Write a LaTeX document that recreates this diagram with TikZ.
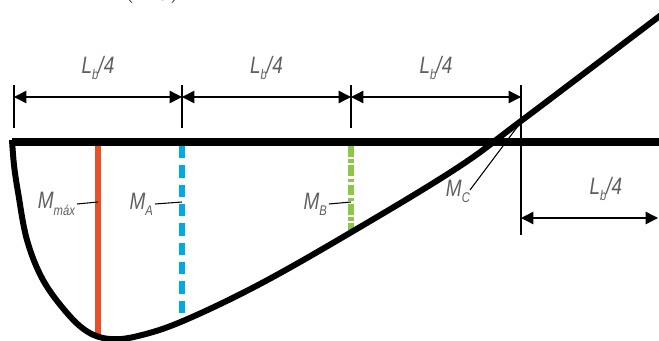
\documentclass[tikz,border=0pt]{standalone}
\usepackage{fontspec}
\setsansfont[FakeStretch=0.8]{Liberation Sans}
\usepackage{tikz}
\usetikzlibrary{arrows.meta}

\definecolor{maxred}{RGB}{232,80,40}
\definecolor{ablue}{RGB}{0,170,228}
\definecolor{bgreen}{RGB}{140,200,70}
\definecolor{lblgray}{RGB}{95,95,95}

\newcommand{\lsub}[1]{\raisebox{-0.5ex}{\fontsize{8}{8}\selectfont #1}}

\begin{document}
\begin{tikzpicture}[x=0.02cm, y=-0.02cm,
        dim/.style  ={{Triangle[length=7pt,width=7pt]}-{Triangle[length=7pt,width=7pt]}, line width=0.8pt},
        tick/.style ={line width=0.8pt},
        beam/.style ={line width=4pt},
        mom/.style  ={line width=3.4pt, line join=round},
        lead/.style ={line width=0.6pt},
        lbl/.style  ={font=\sffamily\itshape\fontsize{13.5}{15}\selectfont, text=lblgray, inner sep=1pt},]

    \useasboundingbox (0,0) rectangle (659,341);

    % partly cut title
    \node[anchor=base] (ttl) at (152,-5) {\fontsize{20}{20}\selectfont$(L_b)$};

    % dimension lines
    \coordinate (t0) at (14,85);
    \coordinate (t1) at (182,85);
    \coordinate (t2) at (351,85);
    \coordinate (t3) at (521,85);
    \draw[tick] (t0) -- ++(0,43);
    \draw[tick] (t1) -- ++(0,43);
    \draw[tick] (t2) -- ++(0,43);
    \draw[tick] (t3) -- ++(0,150);

    \coordinate (a0) at (14,97);
    \coordinate (a1) at (182,97);
    \coordinate (a2) at (351,97);
    \coordinate (a3) at (521,97);
    \coordinate (a4) at (521,218);
    \coordinate (a5) at (658,218);
    \draw[dim] (a0) -- (a1)
        node[lbl, midway, above=0.3cm] {L\lsub{b}/4};
    \draw[dim] (a1) -- (a2)
        node[lbl, midway, above=0.3cm] {L\lsub{b}/4};
    \draw[dim] (a2) -- (a3)
        node[lbl, midway, above=0.3cm] {L\lsub{b}/4};
    \draw[dim] (a4) -- (a5)
        node[lbl, pos=0.62, above=0.3cm] {L\lsub{b}/4};

    % moment lines
    \draw[line width=3pt, maxred] (98,145) -- (98,338);
    \draw[line width=3.2pt, ablue, dash pattern=on 7pt off 4pt] (182,146) -- (182,322);
    \draw[line width=3.2pt, bgreen, dash pattern=on 6pt off 1.5pt on 2pt off 1.5pt] (351,146) -- (351,232);

    % beam and moment diagram
    \coordinate (b0) at (12,142);
    \coordinate (b1) at (659,142);
    \draw[beam] (b0) -- (b1);
    \draw[mom] plot[smooth, tension=0.6] coordinates
        {(12,140) (14,165) (18,192) (27,240) (43,280) (67,313) (88,332) (110,339)
         (138,336) (183,321) (260,284) (355,230) (457,168) (521,121) (665,12)};

    % labels
    \node[lbl, anchor=east] (Mmax) at (77,204) {M\lsub{máx}};
    \node[lbl, anchor=east] (MA) at (155,204) {M\lsub{A}};
    \node[lbl, anchor=east] (MB) at (329,204) {M\lsub{B}};
    \node[lbl, anchor=south east] (MC) at (472,205) {M\lsub{C}};
    \draw[lead] (Mmax.east) -- (98,202);
    \draw[lead] (MA.east) -- (182,202);
    \draw[lead] (MB.east) -- (351,202);
    \draw[lead] (470,190) -- (521,122);
\end{tikzpicture}
\end{document}
